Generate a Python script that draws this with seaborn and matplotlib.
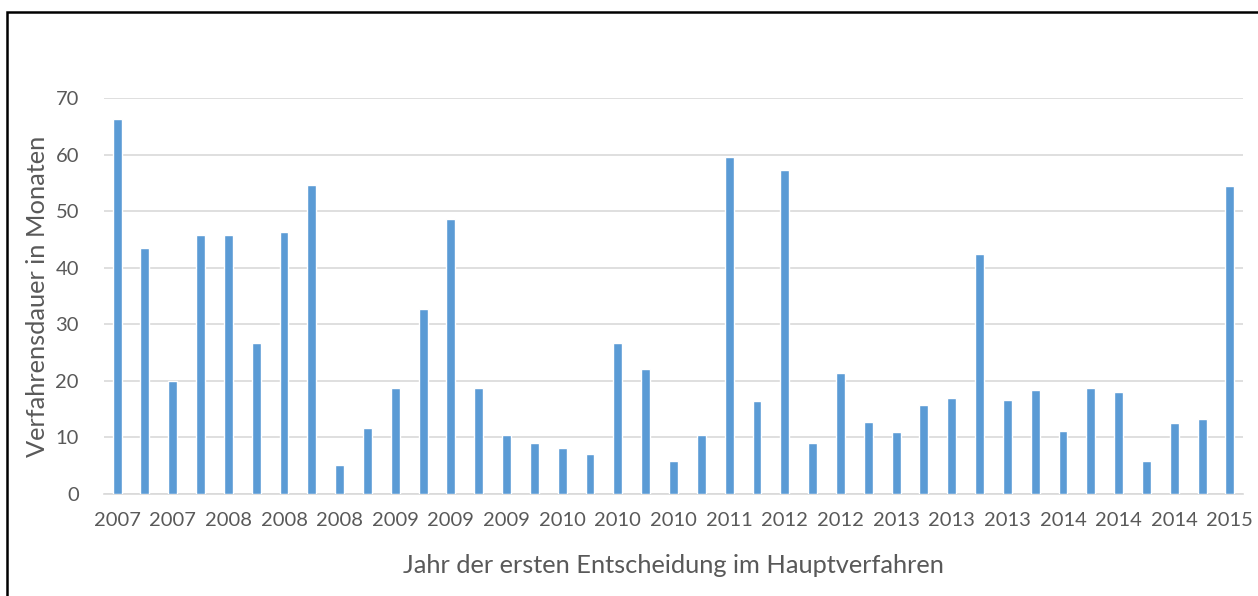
import numpy as np
import pandas as pd
import matplotlib
matplotlib.use("Agg")
import matplotlib.pyplot as plt
import seaborn as sns
from matplotlib.patches import Rectangle

# Verfahrensdauer je Fall (Monate), in der Reihenfolge der Entscheidung
dauer = [66.2, 43.5, 20.0, 45.8, 45.8, 26.7, 46.3, 54.6, 5.1, 11.6,
         18.8, 32.7, 48.6, 18.8, 10.5, 9.0, 8.2, 7.1, 26.7, 22.1,
         5.8, 10.4, 59.5, 16.5, 57.2, 9.1, 21.4, 12.8, 10.9, 15.8,
         16.9, 42.4, 16.7, 18.3, 11.2, 18.8, 18.1, 5.8, 12.6, 13.2,
         54.4]
jahr = [2007, 2007, 2007, 2007, 2008, 2008, 2008, 2008, 2008, 2009,
        2009, 2009, 2009, 2009, 2009, 2010, 2010, 2010, 2010, 2010,
        2010, 2011, 2011, 2012, 2012, 2012, 2012, 2013, 2013, 2013,
        2013, 2013, 2013, 2014, 2014, 2014, 2014, 2014, 2014, 2015,
        2015]
y_ticks = [0, 10, 20, 30, 40, 50, 60, 70]

df = pd.DataFrame({"fall": np.arange(len(dauer)), "dauer": dauer, "jahr": jahr})

sns.set_theme(style="white")
plt.rcParams['font.family'] = ['Lato', 'DejaVu Sans']
grau = '#595959'

fig = plt.figure(figsize=(12.58, 5.96), dpi=100)
ax = fig.add_axes([104 / 1258, 102 / 596, 1139 / 1258, 396 / 596])

sns.barplot(data=df, x="fall", y="dauer", color='#5B9BD5', saturation=1,
            width=0.32, ax=ax, zorder=3)

ax.set_ylim(0, 70)
ax.set_xlim(-0.47, len(dauer) - 0.53)
ax.set_yticks(y_ticks)
ax.yaxis.grid(True, color='#D9D9D9', linewidth=1.2, zorder=0)
ax.set_axisbelow(True)

ax.set_xticks(df["fall"][::2])
ax.set_xticklabels(df["jahr"][::2])
ax.tick_params(axis='x', length=0, pad=13, labelsize=14.5, labelcolor=grau)
ax.tick_params(axis='y', length=0, pad=18, labelsize=14.5, labelcolor=grau)

for s in ['top', 'right', 'left']:
    ax.spines[s].set_visible(False)
ax.spines['bottom'].set_color('#D9D9D9')
ax.spines['bottom'].set_linewidth(1.2)

ax.set_xlabel('Jahr der ersten Entscheidung im Hauptverfahren', fontsize=18.3,
              color=grau, labelpad=18)
ax.set_ylabel('Verfahrensdauer in Monaten', fontsize=18.3, color=grau, labelpad=5)

# Rahmen um die Grafik
fig.patches.append(Rectangle((7 / 1258, -0.05), 1.1, 1 - 12 / 596 + 0.05,
                             transform=fig.transFigure, fill=False,
                             edgecolor='black', linewidth=1.8))

fig.savefig("out.png", dpi=100)
